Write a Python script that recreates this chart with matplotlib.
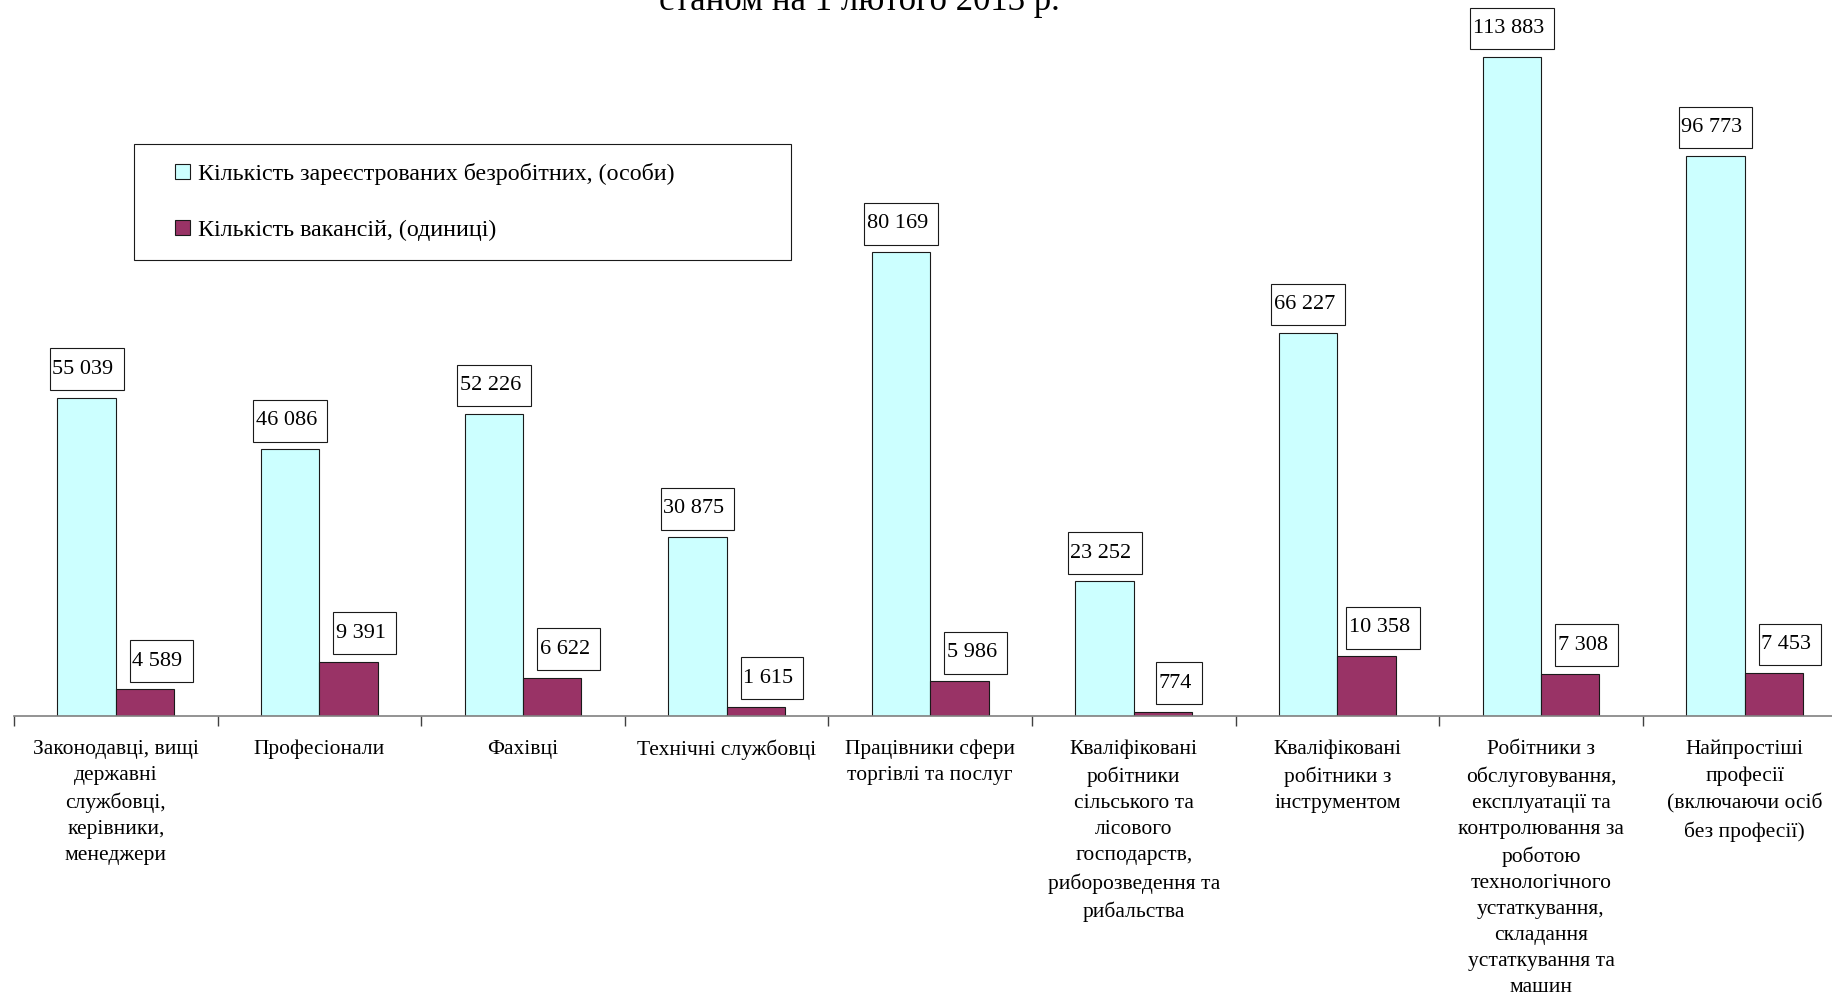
# Registered unemployed vs vacancies by occupation group

import numpy as np
import matplotlib.pyplot as plt
from matplotlib.path import Path
from matplotlib.patches import Rectangle
from matplotlib.container import BarContainer
from matplotlib.legend_handler import HandlerPatch, update_from_first_child

# Data
categories = [
    'Законодавці, вищі\nдержавні\nслужбовці,\nкерівники,\nменеджери',
    'Професіонали',
    'Фахівці',
    'Технічні службовці',
    'Працівники сфери\nторгівлі та послуг',
    'Кваліфіковані\nробітники\nсільського та\nлісового\nгосподарств,\nриборозведення та\nрибальства',
    'Кваліфіковані\nробітники з\nінструментом',
    'Робітники з\nобслуговування,\nексплуатації та\nконтролювання за\nроботою\nтехнологічного\nустаткування,\nскладання\nустаткування та\nмашин',
    'Найпростіші\nпрофесії\n(включаючи осіб\nбез професії)',
]
unemployed = [55039, 46086, 52226, 30875, 80169, 23252, 66227, 113883, 96773]
vacancies = [4589, 9391, 6622, 1615, 5986, 774, 10358, 7308, 7453]
series_names = ['Кількість зареєстрованих безробітних, (особи)',
                'Кількість вакансій, (одиниці)']
title = 'станом на 1 лютого 2013 р.'

plt.rcParams['font.family'] = ['Liberation Serif', 'DejaVu Serif']

fig = plt.figure(figsize=(18.32, 9.97), dpi=100)
ax = fig.add_axes([14 / 1832, 1 - 716 / 997, 9 * 203.6 / 1832, 716 / 997])

x = np.arange(len(categories))
w = 0.287
ax.bar(x - w / 2, unemployed, w, color='#CCFFFF', edgecolor='#1a1a1a',
       linewidth=0.8, label=series_names[0])
ax.bar(x + w / 2, vacancies, w, color='#993366', edgecolor='#1a1a1a',
       linewidth=0.8, label=series_names[1])

def fmt(v):
    return f'{v:,}'.replace(',', ' ')

# Excel-like label box: little padding on the left, more on the right, tall
def label_box(x0, y0, width, height, mutation_size):
    lp, rp, pv = 0.12 * mutation_size, 0.45 * mutation_size, 0.51 * mutation_size
    xa, xb = x0 - lp, x0 + width + rp
    ya, yb = y0 - pv, y0 + height + pv
    return Path([(xa, ya), (xb, ya), (xb, yb), (xa, yb), (xa, ya)], closed=True)

box = dict(boxstyle=label_box, facecolor='white', edgecolor='#1a1a1a', linewidth=0.8)
for xi, v in zip(x, unemployed):
    ax.annotate(fmt(v), (xi - w / 2, v), xytext=(-2.6, 13.6), textcoords='offset points',
                ha='center', va='bottom', fontsize=16, bbox=box)
for xi, v in zip(x, vacancies):
    ax.annotate(fmt(v), (xi + w / 2, v), xytext=(9, 13.6), textcoords='offset points',
                ha='center', va='bottom', fontsize=16, bbox=box)

ax.set_xlim(-0.5, len(categories) - 0.5)
ax.set_ylim(0, 113883 * 716 / 659)

for s in ['top', 'right', 'left']:
    ax.spines[s].set_visible(False)
ax.spines['bottom'].set_color('#808080')
ax.spines['bottom'].set_linewidth(1.2)
ax.set_yticks([])

ax.set_xticks(x)
ax.set_xticklabels(categories, fontsize=15.5, linespacing=1.5, va='top')
ax.tick_params(axis='x', which='major', length=0, pad=17)
ax.set_xticks(np.arange(len(categories)) - 0.5, minor=True)
ax.tick_params(axis='x', which='minor', length=7, width=1.0, color='#404040',
               direction='out')

# small square legend keys placed at the right end of the handle area
def square_patch(legend, orig_handle, xdescent, ydescent, width, height, fontsize):
    s = 0.63 * fontsize
    return Rectangle((-xdescent + width - s, -ydescent + (height - s) / 2), s, s)

sq = HandlerPatch(patch_func=square_patch, update_func=update_from_first_child)
leg = ax.legend(loc='upper left', bbox_to_anchor=(134 / 1832, 1 - 144 / 997, 657 / 1832, 0.0),
                bbox_transform=fig.transFigure, mode='expand', fontsize=17.3,
                handler_map={BarContainer: sq},
                handlelength=1.53, handleheight=0.7, handletextpad=0.34,
                labelspacing=1.42, borderpad=0.8, borderaxespad=0,
                fancybox=False, framealpha=1, edgecolor='#1a1a1a')
leg.get_frame().set_linewidth(0.8)

fig.text(859 / 1832, 1 - 10 / 997, title, ha='center', va='baseline', fontsize=25)

fig.savefig('out.png', dpi=100)
